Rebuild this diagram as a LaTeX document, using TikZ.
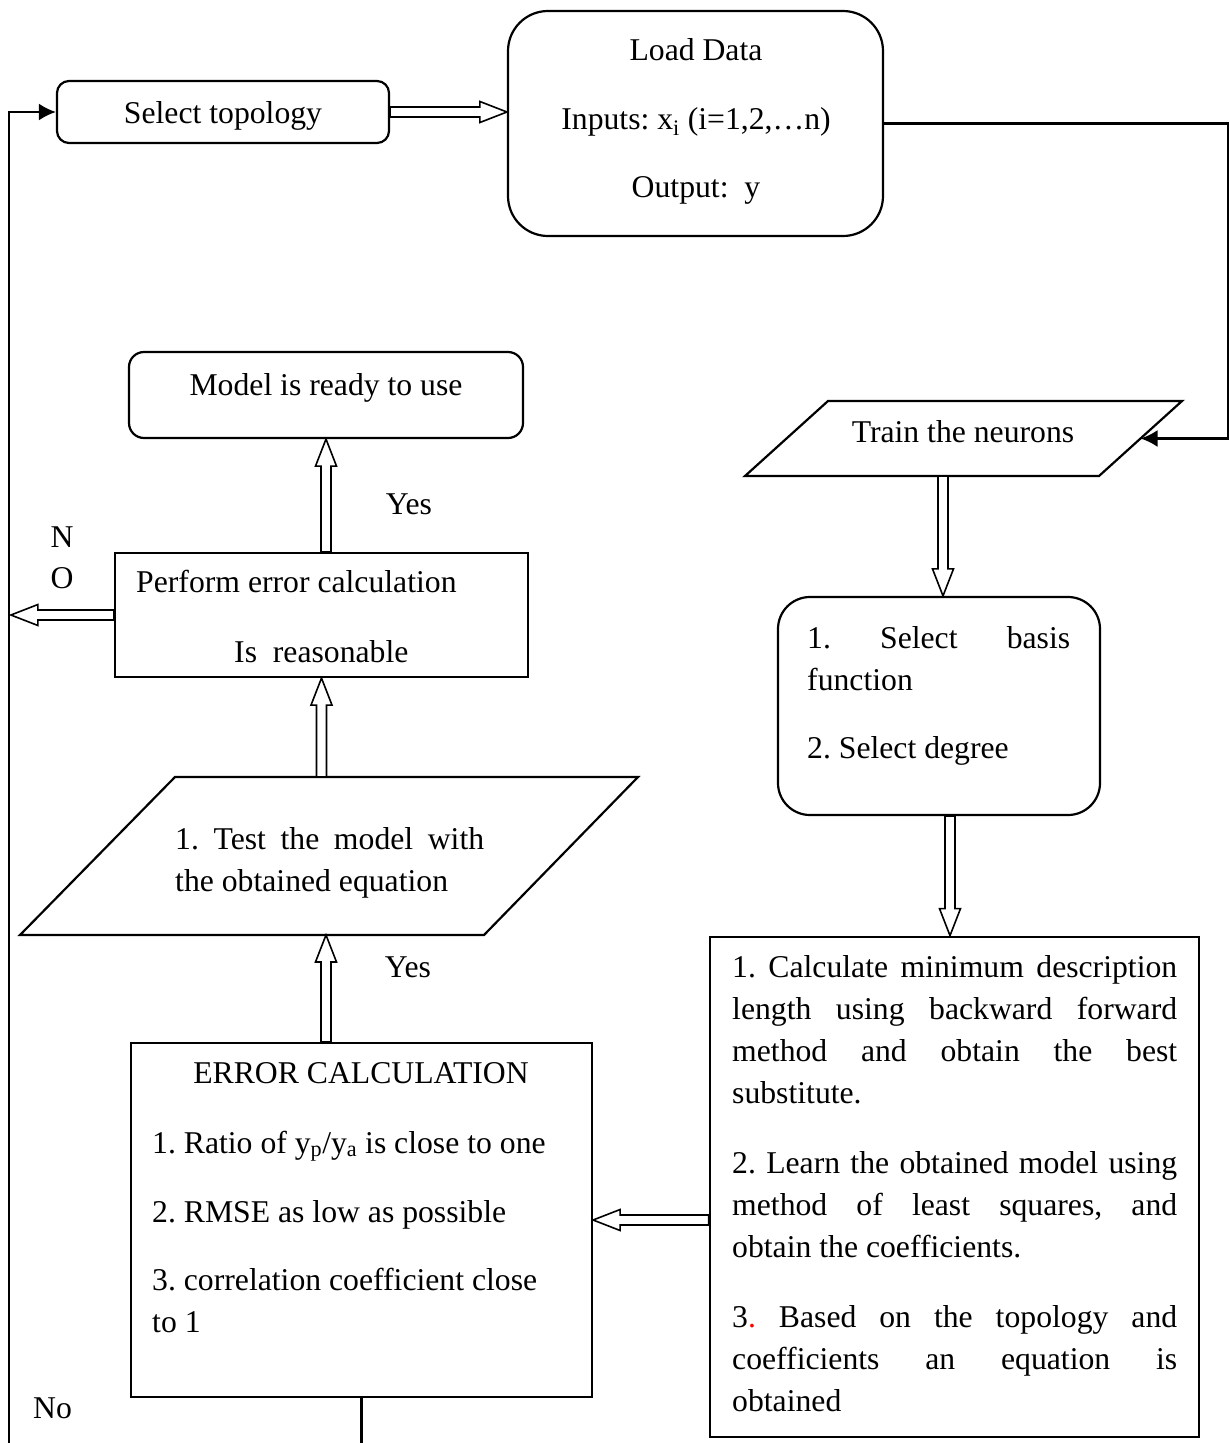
\documentclass[tikz,border=0pt]{standalone}
\usepackage{fontspec}
\setmainfont{Liberation Serif}
\usetikzlibrary{calc,arrows.meta}
\newcommand\fcfont{\fontsize{31.7}{42}\selectfont\frenchspacing}
% hollow block arrow between two named points
\newcommand\dblarrow[2]{%
  \draw[dblarr] ($(#1)!5pt!90:(#2)$)
    -- ($(#2)!27pt!(#1)!5pt!90:(#2)$)
    -- ($(#2)!27pt!(#1)!10.5pt!90:(#2)$)
    -- (#2)
    -- ($(#2)!27pt!(#1)!10.5pt!-90:(#2)$)
    -- ($(#2)!27pt!(#1)!5pt!-90:(#2)$)
    -- ($(#1)!5pt!-90:(#2)$) -- cycle;}
\begin{document}
\begin{tikzpicture}[x=1pt,y=-1pt,
  every node/.style={inner sep=0pt, font=\fcfont},
  frame/.style={draw, line width=2.2pt},
  dblarr/.style={fill=white, line width=1.6pt, line join=miter},
  link/.style={draw, line width=2.2pt},
  headed/.style={-{Latex[length=17pt,width=17pt]}},
  txt/.style={align=left, anchor=north west},
]
\useasboundingbox (0,0) rectangle (1229,1443);

% boxes
\node[frame, rounded corners=12pt, minimum width=332pt, minimum height=62pt] (sel) at (223,112) {};
\node[anchor=base] (seltxt) at (223,123) {Select topology};

\node[frame, rounded corners=40pt, minimum width=375pt, minimum height=225pt] (load) at (695.5,123.5) {};
\node[align=center, anchor=north] (loadtxt) at (696,30.6)
  {\strut Load Data\\[27pt]Inputs: x\textsubscript{i} (i=1,2,…n)\\[26pt]Output:\ \ y};

\node[frame, rounded corners=15pt, minimum width=394pt, minimum height=86pt] (model) at (326,395) {};
\node[anchor=base] (modeltxt) at (326,395) {Model is ready to use};

\node[frame, minimum width=413pt, minimum height=124pt] (perf) at (321.5,615) {};
\node[txt] (perftxt) at (136,562.6)
  {\strut Perform error calculation\\[28pt]\hspace*{98pt}Is\ \ reasonable};

% train parallelogram
\coordinate (trTL) at (828,401);
\coordinate (trTR) at (1182,401);
\coordinate (trBR) at (1099,476);
\coordinate (trBL) at (745,476);
\draw[frame] (trTL) -- (trTR) -- (trBR) -- (trBL) -- cycle;
\node[anchor=base] (train) at (963,442) {Train the neurons};

\node[frame, rounded corners=32pt, minimum width=322pt, minimum height=218pt] (basis) at (939,706) {};
\node[txt] (basistxt) at (807,618.6)
  {\strut\makebox[263pt][s]{1. Select basis}\\function\\[26pt]2. Select degree};

% test parallelogram
\coordinate (tsTL) at (175,777);
\coordinate (tsTR) at (638,777);
\coordinate (tsBR) at (484,935);
\coordinate (tsBL) at (20,935);
\draw[frame] (tsTL) -- (tsTR) -- (tsBR) -- (tsBL) -- cycle;
\node[txt] (testtxt) at (175,819.6)
  {\strut\makebox[309pt][s]{1. Test the model with}\\the obtained equation};

\node[frame, minimum width=461pt, minimum height=354pt] (errbox) at (361.5,1220) {};
\node[anchor=base] (errtitle) at (361,1083) {ERROR CALCULATION};
\node[txt] (errtxt) at (152,1123.6)
  {\strut 1. Ratio of y\textsubscript{p}/y\textsubscript{a} is close to one\\[27pt]2. RMSE as low as possible\\[26pt]3. correlation coefficient close\\to 1};

\node[frame, line width=2.8pt, minimum width=489pt, minimum height=500pt] (mdl) at (954.5,1187) {};
\node[txt] (mdltxt) at (732,947.6)
  {\strut\makebox[445pt][s]{1. Calculate minimum description}\\%
   \makebox[445pt][s]{length using backward forward}\\%
   \makebox[445pt][s]{method and obtain the best}\\%
   substitute.\\[28pt]%
   \makebox[445pt][s]{2. Learn the obtained model using}\\%
   \makebox[445pt][s]{method of least squares, and}\\%
   obtain the coefficients.\\[28pt]%
   \makebox[445pt][s]{3\textcolor{red}{.} Based on the topology and}\\%
   \makebox[445pt][s]{coefficients an equation is}\\%
   obtained};

% labels
\node[anchor=base] (yes1) at (409,514) {Yes};
\node[anchor=base] (yes2) at (408,977) {Yes};
\node[anchor=base] (lblN) at (62,547) {N};
\node[anchor=base] (lblO) at (62,588) {O};
\node[anchor=base west] (lblNo) at (33,1418) {No};

% block arrows
\coordinate (a1e) at (sel.east -| load.west);
\dblarrow{sel.east}{a1e}
\coordinate (trS) at (943,476);
\coordinate (a2e) at (trS |- basis.north);
\dblarrow{trS}{a2e}
\coordinate (bsS) at ([xshift=11pt]basis.south);
\coordinate (a3e) at (bsS |- mdl.north);
\dblarrow{bsS}{a3e}
\coordinate (mdW) at (mdl.west |- errbox.east);
\dblarrow{mdW}{errbox.east}
\coordinate (ebN) at ([xshift=-35.5pt]errbox.north);
\coordinate (tsBot) at (ebN |- tsBL);
\dblarrow{ebN}{tsBot}
\coordinate (tsTop) at (perf.south |- tsTL);
\dblarrow{tsTop}{perf.south}
\coordinate (pfN) at (model.south |- perf.north);
\dblarrow{pfN}{model.south}
\coordinate (noEnd) at ([xshift=-103pt]perf.west);
\dblarrow{perf.west}{noEnd}

% plain connectors
\coordinate (rcol) at (1228,123.5);
\coordinate (trE) at ($(trTR)!0.5!(trBR)$);
\draw[link, headed] (load.east) -- (rcol) |- (trE);
\coordinate (fbB) at (9,1443);
\draw[link, headed] (fbB) |- (sel.west);
\draw[link] (errbox.south) -- (errbox.south |- fbB);
\end{tikzpicture}
\end{document}
